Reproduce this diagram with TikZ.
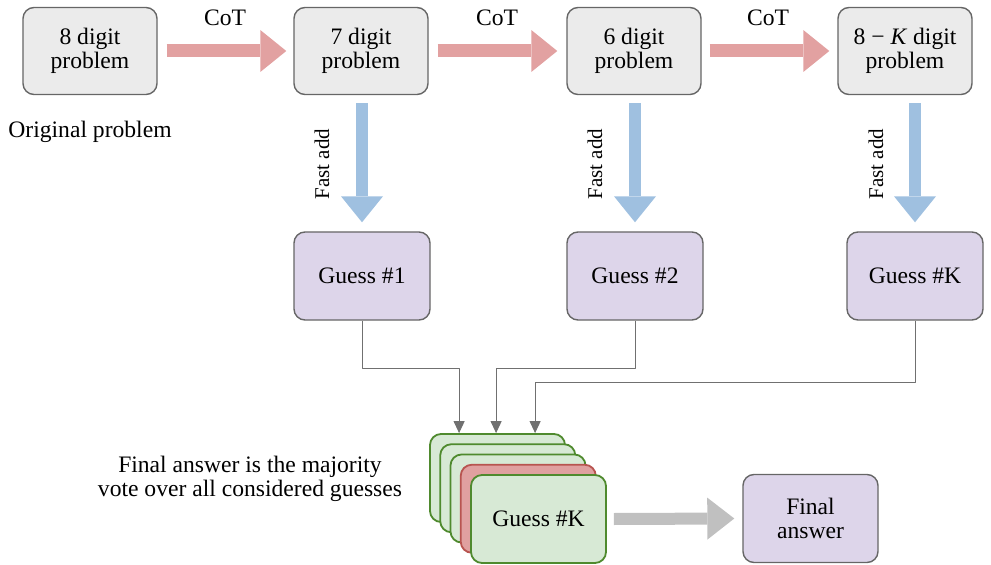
\documentclass[tikz,border=0pt]{standalone}
\usepackage{fontspec}
\setmainfont{Liberation Serif}
\usepackage{tikz}
\usetikzlibrary{arrows.meta}

\definecolor{boxgray}{HTML}{EBEBEB}
\definecolor{strokegray}{HTML}{666666}
\definecolor{guesspurple}{HTML}{DDD5EA}
\definecolor{cardfill}{HTML}{D7E9D5}
\definecolor{cardgreen}{HTML}{4F8A2E}
\definecolor{cardred}{HTML}{E0A0A0}
\definecolor{cardredline}{HTML}{B85450}
\definecolor{cotred}{HTML}{E2A1A1}
\definecolor{fastblue}{HTML}{9FC0E0}
\definecolor{votegray}{HTML}{C0C0C0}
\definecolor{linkgray}{HTML}{707070}

\begin{document}
\begin{tikzpicture}[x=1bp,y=-1bp,line join=bevel,
  prob/.style={draw=strokegray,fill=boxgray,line width=1.4bp,rounded corners=11bp,
    minimum width=134bp,minimum height=87bp,inner sep=0pt,align=center,
    font=\fontsize{23.6bp}{24bp}\selectfont},
  guess/.style={prob,fill=guesspurple,minimum width=136bp,minimum height=88bp},
  card/.style={prob,draw=cardgreen,fill=cardfill,line width=1.8bp,minimum width=135bp,minimum height=88bp},
  lbl/.style={inner sep=0pt,align=center,font=\fontsize{23.6bp}{24bp}\selectfont},
  cot/.style={draw=cotred,line width=13bp,-{Triangle[length=26bp,width=42bp,line width=0pt]}},
  fast/.style={draw=fastblue,line width=12bp,-{Triangle[length=26bp,width=42bp,line width=0pt]}},
  vote/.style={draw=votegray,line width=12bp,-{Triangle[length=27bp,width=42bp,line width=0pt]}},
  link/.style={draw=linkgray,line width=1bp,-{Triangle[length=12bp,width=11bp]}}]
\useasboundingbox (0,0) rectangle (991,565);
%%
  % Node: problems
  \node[prob] (p8) at (90,51) {8 digit\\problem};
  \node[prob] (p7) at (361,51) {7 digit\\problem};
  \node[prob] (p6) at (634,51) {6 digit\\problem};
  \node[prob] (pk) at (905,51) {8 − \textit{K} digit\\problem};
  \node[lbl] (orig) at (90,132) {Original problem};
  % Node: guesses
  \node[guess] (g1) at (362,276) {Guess \#1};
  \node[guess] (g2) at (635,276) {Guess \#2};
  \node[guess] (gk) at (915,276) {Guess \#K};
  % Node: stack of guesses
  \node[card] (c1) at (497.5,478) {};
  \node[card] (c2) at (507.75,488.25) {};
  \node[card] (c3) at (518,498.5) {};
  \node[card,draw=cardredline,fill=cardred] (c4) at (528.25,508.75) {};
  \node[card] (c5) at (538.5,519) {Guess \#K};
  \node[lbl] (note) at (250,479) {Final answer is the majority\\vote over all considered guesses};
  % Node: final
  \node[guess,minimum width=135bp] (fin) at (810.5,518.5) {Final\\answer};
%%
  % Edge: p8 -> p7 -> p6 -> pk
  \draw[cot] ([xshift=9bp]p8.east) -- ([xshift=-7bp]p7.west);
  \draw[cot] ([xshift=9bp]p7.east) -- ([xshift=-9bp]p6.west);
  \draw[cot] ([xshift=8bp]p6.east) -- ([xshift=-8bp]pk.west);
  \node[lbl] (cot1) at (225,18) {CoT};
  \node[lbl] (cot2) at (497,18) {CoT};
  \node[lbl] (cot3) at (768,18) {CoT};
  % Edge: problem -> guess
  \coordinate (f1) at ([yshift=-8bp]p7.south);
  \coordinate (f2) at ([yshift=-8bp]p6.south);
  \coordinate (f3) at ([yshift=-8bp]pk.south);
  \draw[fast] (f1 -| g1.north) -- ([yshift=9bp]g1.north);
  \draw[fast] (f2 -| g2.north) -- ([yshift=9bp]g2.north);
  \draw[fast] (f3 -| gk.north) -- ([yshift=9bp]gk.north);
  \node[lbl,rotate=90,font=\fontsize{21bp}{22bp}\selectfont] (fa1) at (322,164) {Fast add};
  \node[lbl,rotate=90,font=\fontsize{21bp}{22bp}\selectfont] (fa2) at (595,164) {Fast add};
  \node[lbl,rotate=90,font=\fontsize{21bp}{22bp}\selectfont] (fa3) at (876,164) {Fast add};
  % Edge: guesses -> stack
  \draw[link] (g1.south) -- ++(0,48) -| ([xshift=30bp]c1.north west);
  \draw[link] (g2.south) -- ++(0,48) -| ([xshift=67bp]c1.north west);
  \draw[link] (gk.south) -- ++(0,62) -| ([xshift=106bp]c1.north west);
  % Edge: stack -> fin
  \draw[vote] ([xshift=7bp]c5.east) -- ([xshift=-8bp]fin.west);
%
\end{tikzpicture}
\end{document}
